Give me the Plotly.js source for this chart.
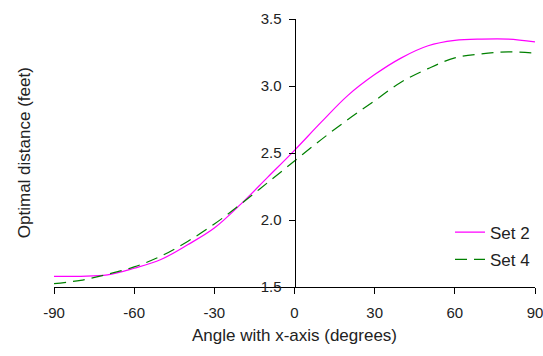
<!DOCTYPE html>
<html>
<head>
<meta charset="utf-8">
<script src="https://cdn.plot.ly/plotly-3.0.1.min.js"></script>
<style>html,body{margin:0;padding:0;background:#fff;}#chart{width:543px;height:356px;}</style>
</head>
<body>
<div id="chart"></div>
<script>
const angles = [-90, -80, -70, -60, -50, -40, -30, -20, -10, 0, 10, 20, 30, 40, 50, 60, 70, 80, 90];
const set2 = [1.58, 1.58, 1.59, 1.64, 1.705, 1.815, 1.94, 2.12, 2.32, 2.52, 2.73, 2.93, 3.085, 3.21, 3.30, 3.34, 3.35, 3.35, 3.33];
const set4 = [1.525, 1.55, 1.595, 1.65, 1.73, 1.84, 1.97, 2.12, 2.28, 2.44, 2.60, 2.75, 2.89, 3.03, 3.13, 3.21, 3.24, 3.255, 3.245];
const seriesNames = ['Set 2', 'Set 4'];
const xTicks = [-90, -60, -30, 0, 30, 60, 90];
const yTicks = [1.5, 2.0, 2.5, 3.0, 3.5];

const fontFam = 'Liberation Sans, Arial, sans-serif';
const traces = [
  {x: angles, y: set2, name: seriesNames[0], mode: 'lines', legendgroup: 'a',
   line: {color: '#FF00FF', width: 1.2, shape: 'spline', smoothing: 1}},
  {x: angles, y: set4, name: seriesNames[1], mode: 'lines', legendgroup: 'b',
   line: {color: '#008000', width: 1.2, shape: 'spline', smoothing: 1, dash: '12px,7px'}}
];
const layout = {
  width: 543, height: 356,
  margin: {l: 54, r: 8, t: 19, b: 69},
  paper_bgcolor: '#fff', plot_bgcolor: '#fff',
  font: {family: fontFam, size: 15, color: '#222'},
  showlegend: true,
  legend: {x: 1, xanchor: 'right', y: 0.27, yanchor: 'top', bgcolor: 'rgba(0,0,0,0)',
           font: {family: fontFam, size: 17, color: '#222'}, tracegroupgap: 2},
  xaxis: {range: [-90, 90], tickvals: xTicks, ticktext: xTicks.map(String),
          showgrid: false, zeroline: false, showline: true, linecolor: '#000', linewidth: 1,
          ticks: 'outside', ticklen: 6, tickcolor: '#000', ticklabelstandoff: 6,
          ticklabeloverflow: 'allow',
          tickfont: {family: fontFam, size: 15, color: '#222'},
          title: {text: 'Angle with x-axis (degrees)', standoff: 9, font: {family: fontFam, size: 17, color: '#222'}}},
  yaxis: {range: [1.5, 3.5], tickvals: yTicks, ticktext: yTicks.map(v => v.toFixed(1)),
          anchor: 'free', position: 0.5,
          showgrid: false, zeroline: false, showline: true, linecolor: '#000', linewidth: 1,
          ticks: 'outside', ticklen: 6, tickcolor: '#000', ticklabelstandoff: 4,
          tickfont: {family: fontFam, size: 15, color: '#222'}},
  annotations: [{text: 'Optimal distance (feet)', xref: 'paper', yref: 'paper', x: -0.062, y: 0.5,
                 xanchor: 'center', yanchor: 'middle', textangle: -90, showarrow: false,
                 font: {family: fontFam, size: 17, color: '#222'}}]
};
Plotly.newPlot('chart', traces, layout, {displayModeBar: false, staticPlot: true});
</script>
</body>
</html>
